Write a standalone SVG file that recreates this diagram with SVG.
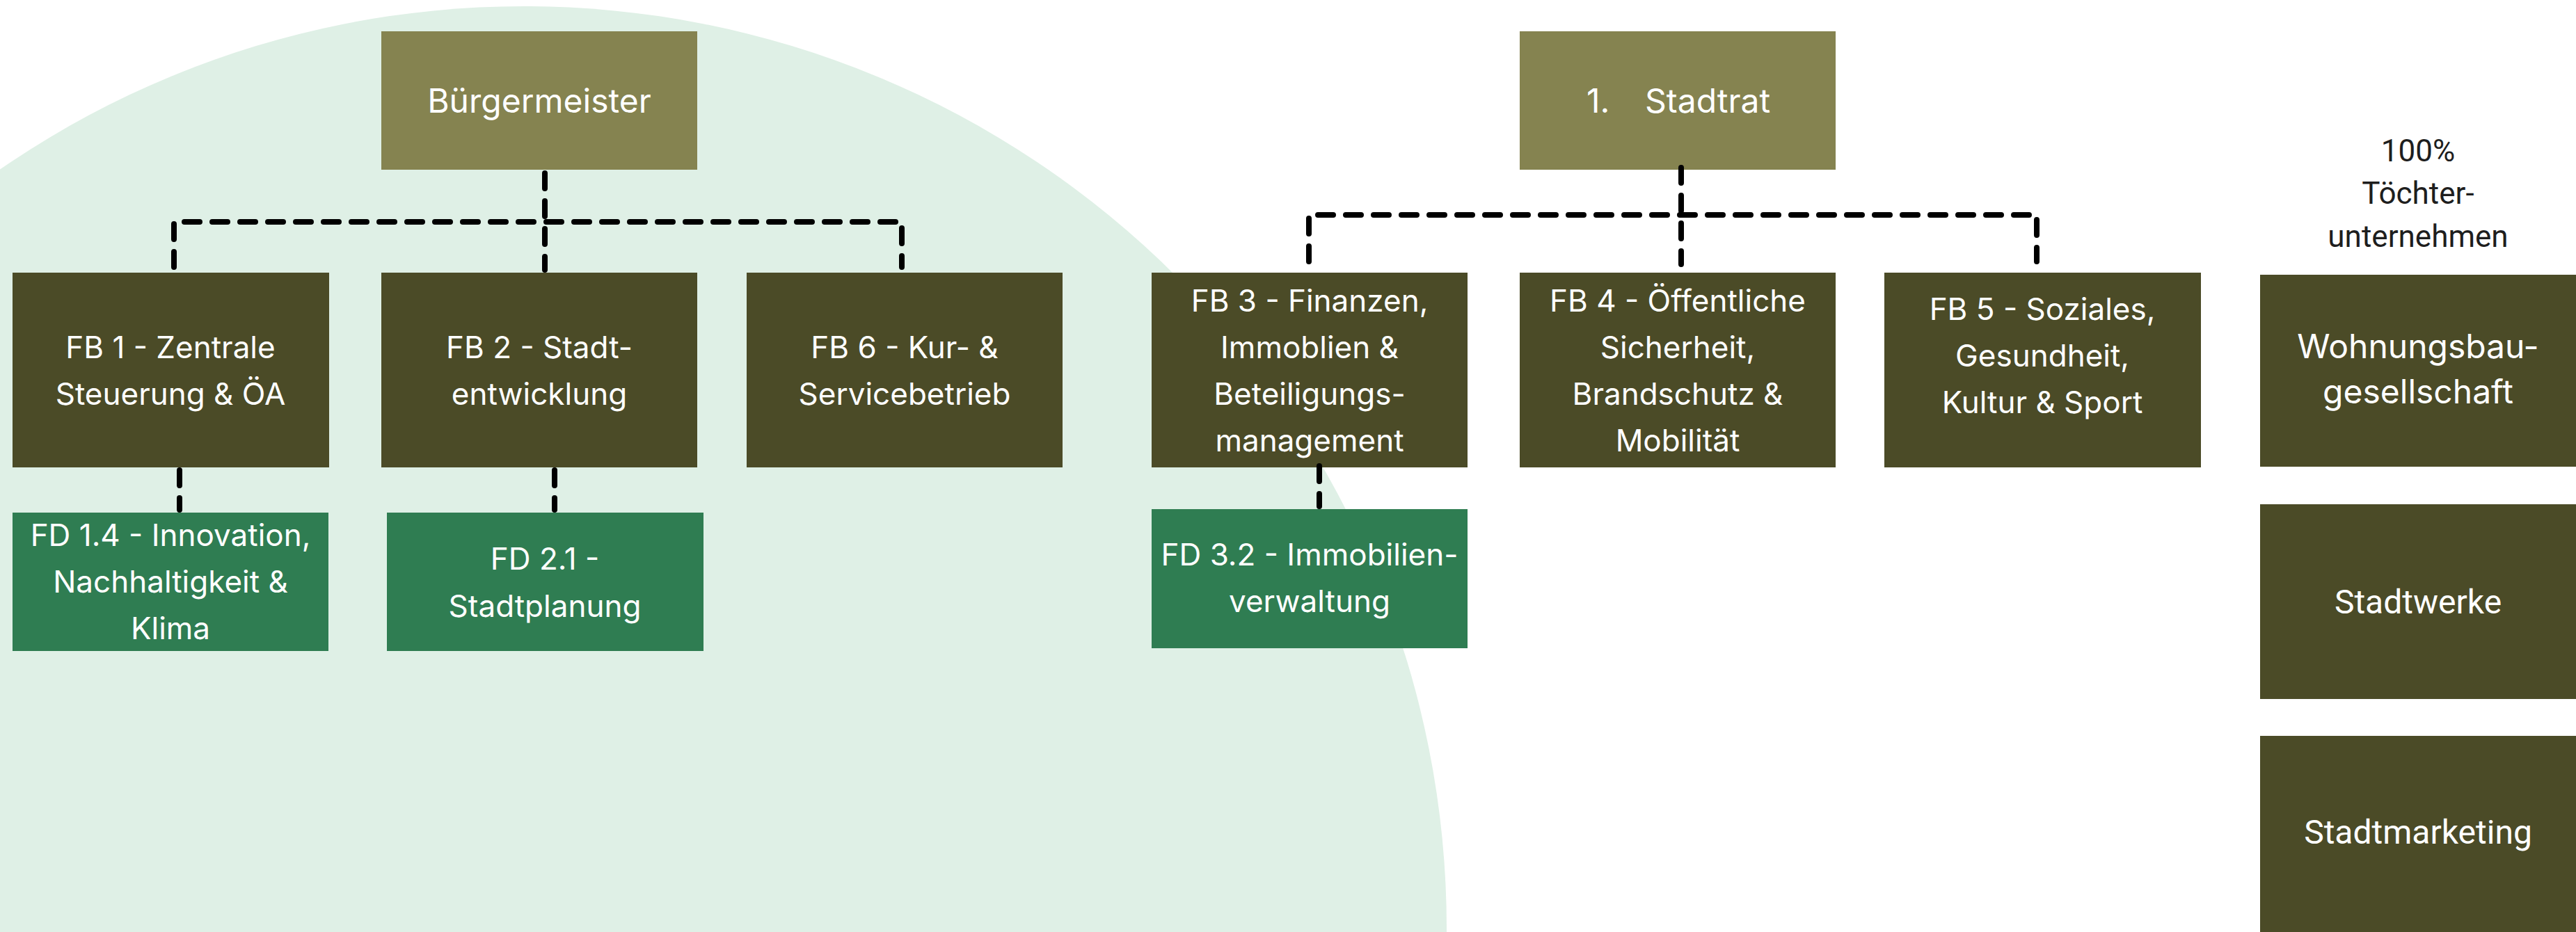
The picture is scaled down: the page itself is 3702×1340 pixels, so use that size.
<svg xmlns="http://www.w3.org/2000/svg" width="3702" height="1340" viewBox="0 0 3702 1340">
<style>
.bg{fill:#DFF0E6}
.top{fill:#858350}
.fb{fill:#4B4B27}
.fd{fill:#2F7D52}
.t{font-family:Inter,Roboto,"Liberation Sans",sans-serif;font-size:44px;fill:#FFFFFF;text-anchor:middle}
.tb{font-size:48px}
.r{font-family:Roboto,"Liberation Sans",sans-serif;font-size:48px;fill:#FFFFFF;text-anchor:middle}
.dark{font-family:Roboto,"Liberation Sans",sans-serif;font-size:44px;fill:#1E1E1E;text-anchor:middle}
.c{fill:none;stroke:#000;stroke-width:8;stroke-dasharray:22 18;stroke-linecap:round;stroke-linejoin:round}
</style>
<rect width="3702" height="1340" fill="#FFFFFF"/>
<circle class="bg" cx="753" cy="1335" r="1326"/>

<g id="buergermeister"><rect class="top" x="548" y="45" width="454" height="199"/><text class="t tb" x="775" y="162">Bürgermeister</text></g>
<g id="stadtrat"><rect class="top" x="2184" y="45" width="454" height="199"/><text class="t tb" x="2280" y="162" style="text-anchor:start">1.</text><text class="t tb" x="2364" y="162" style="text-anchor:start">Stadtrat</text></g>

<g id="fb1"><rect class="fb" x="18" y="392" width="455" height="280"/><text class="t" x="245" y="515">FB 1 - Zentrale</text><text class="t" x="245" y="582">Steuerung &amp; ÖA</text></g>
<g id="fb2"><rect class="fb" x="548" y="392" width="454" height="280"/><text class="t" x="775" y="515">FB 2 - Stadt-</text><text class="t" x="775" y="582">entwicklung</text></g>
<g id="fb6"><rect class="fb" x="1073" y="392" width="454" height="280"/><text class="t" x="1300" y="515">FB 6 - Kur- &amp;</text><text class="t" x="1300" y="582">Servicebetrieb</text></g>
<g id="fb3"><rect class="fb" x="1655" y="392" width="454" height="280"/><text class="t" x="1882" y="448">FB 3 - Finanzen,</text><text class="t" x="1882" y="515">Immoblien &amp;</text><text class="t" x="1882" y="582">Beteiligungs-</text><text class="t" x="1882" y="649">management</text></g>
<g id="fb4"><rect class="fb" x="2184" y="392" width="454" height="280"/><text class="t" x="2411" y="448">FB 4 - Öffentliche</text><text class="t" x="2411" y="515">Sicherheit,</text><text class="t" x="2411" y="582">Brandschutz &amp;</text><text class="t" x="2411" y="649">Mobilität</text></g>
<g id="fb5"><rect class="fb" x="2708" y="392" width="455" height="280"/><text class="t" x="2935" y="460">FB 5 - Soziales,</text><text class="t" x="2935" y="527">Gesundheit,</text><text class="t" x="2935" y="594">Kultur &amp; Sport</text></g>

<g id="fd14"><rect class="fd" x="18" y="737" width="454" height="199"/><text class="t" x="245" y="785">FD 1.4 - Innovation,</text><text class="t" x="245" y="852">Nachhaltigkeit &amp;</text><text class="t" x="245" y="919">Klima</text></g>
<g id="fd21"><rect class="fd" x="556" y="737" width="455" height="199"/><text class="t" x="783" y="819">FD 2.1 -</text><text class="t" x="783" y="887">Stadtplanung</text></g>
<g id="fd32"><rect class="fd" x="1655" y="732" width="454" height="200"/><text class="t" x="1882" y="813">FD 3.2 - Immobilien-</text><text class="t" x="1882" y="880">verwaltung</text></g>

<g id="toechter-label"><text class="dark" x="3475" y="232">100%</text><text class="dark" x="3475" y="293">Töchter-</text><text class="dark" x="3475" y="355">unternehmen</text></g>
<g id="wohnungsbau"><rect class="fb" x="3248" y="395" width="454" height="276"/><text class="t tb" x="3475" y="515">Wohnungsbau-</text><text class="t tb" x="3475" y="580">gesellschaft</text></g>
<g id="stadtwerke"><rect class="fb" x="3248" y="725" width="454" height="280"/><text class="r" x="3475" y="882">Stadtwerke</text></g>
<g id="stadtmarketing"><rect class="fb" x="3248" y="1058" width="454" height="282"/><text class="r" x="3475" y="1213">Stadtmarketing</text></g>

<g id="connectors">
<path class="c" d="M783 249V388"/>
<path class="c" d="M250 384V319H1296V384"/>
<path class="c" d="M2416 241V380"/>
<path class="c" d="M1881 376V309H2927V376"/>
<path class="c" d="M258 676V733"/>
<path class="c" d="M797 676V733"/>
<path class="c" d="M1896 670V728"/>
</g>
</svg>
